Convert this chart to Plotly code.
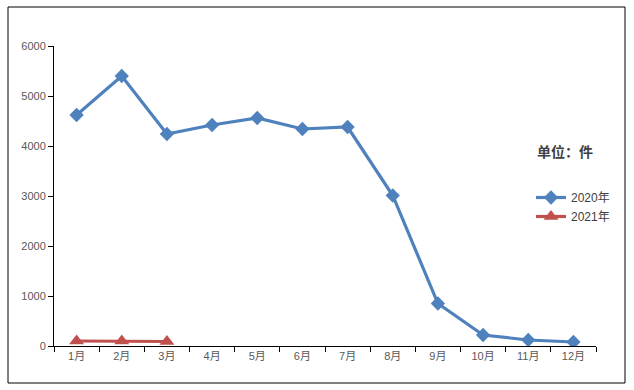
import plotly.graph_objects as go

months = ["1月", "2月", "3月", "4月", "5月", "6月", "7月", "8月", "9月", "10月", "11月", "12月"]
values_2020 = [4620, 5400, 4240, 4420, 4560, 4340, 4380, 3010, 850, 220, 120, 80]
months_2021 = ["1月", "2月", "3月"]
values_2021 = [100, 100, 90]
y_ticks = [0, 1000, 2000, 3000, 4000, 5000, 6000]

W, H = 634, 390
ml, mr, mt, mb = 54, 38, 46, 44
pw, ph = W - ml - mr, H - mt - mb

def px_x(x):
    return (x - ml) / pw

def px_y(y):
    return (H - mb - y) / ph

font_family = "Liberation Sans, Noto Sans CJK SC, sans-serif"

fig = go.Figure()
fig.add_trace(go.Scatter(
    x=months, y=values_2020, name="2020年", mode="lines+markers",
    line=dict(color="#4F81BD", width=3.2),
    marker=dict(symbol="diamond", size=11, color="#4F81BD"),
))
fig.add_trace(go.Scatter(
    x=months_2021, y=values_2021, name="2021年", mode="lines+markers",
    line=dict(color="#C0504D", width=3.2),
    marker=dict(symbol="triangle-up", size=13, color="#C0504D"),
))

fig.update_layout(
    width=W, height=H,
    margin=dict(l=ml, r=mr, t=mt, b=mb),
    paper_bgcolor="white", plot_bgcolor="white",
    font=dict(family=font_family, size=11, color="#595959"),
    showlegend=True,
    legend=dict(x=px_x(531), y=px_y(183), xanchor="left", yanchor="top",
                bgcolor="rgba(0,0,0,0)", font=dict(size=12, color="#404040"),
                itemwidth=30, tracegroupgap=2),
    xaxis=dict(
        categoryorder="array", categoryarray=months,
        range=[-0.5, 11.5],
        showline=True, linecolor="black", linewidth=1,
        ticks="outside", tickson="boundaries", ticklen=5, tickcolor="black",
        showgrid=False, zeroline=False,
    ),
    yaxis=dict(
        range=[0, 6000], tickvals=y_ticks,
        showline=True, linecolor="black", linewidth=1,
        ticks="outside", ticklen=5, tickcolor="black",
        showgrid=False, zeroline=False,
    ),
    annotations=[dict(
        text="<b>单位：件</b>", x=px_x(535), y=px_y(151), xref="paper", yref="paper",
        xanchor="left", yanchor="middle", showarrow=False,
        font=dict(size=14, color="#404040", family="Noto Sans CJK SC, sans-serif"),
    )],
    shapes=[dict(
        type="rect", xref="paper", yref="paper",
        x0=px_x(8), x1=px_x(625), y0=px_y(383), y1=px_y(7),
        line=dict(color="black", width=1), fillcolor="rgba(0,0,0,0)", layer="below",
    )],
)

fig.write_html("out.html", config={"displayModeBar": False},
               post_script="document.body.style.margin='0';")
